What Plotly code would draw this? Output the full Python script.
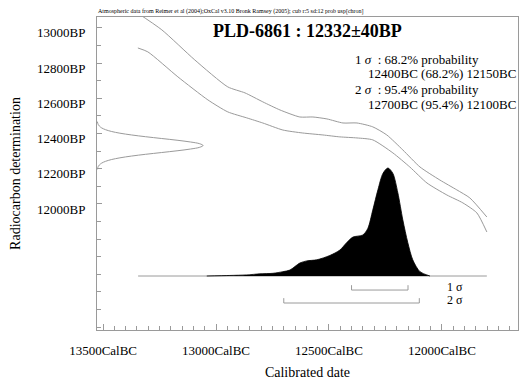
import plotly.graph_objects as go

# ---------------- data ----------------
# calibration curve envelope (cal BC, BP)
cal_upper_bc = [13355, 13240, 13094, 12948, 12872, 12793, 12717, 12629, 12571, 12509,
                12438, 12376, 12306, 12244, 12173, 12097, 12009, 11934, 11876, 11801]
cal_upper_bp = [13091, 12989, 12818, 12665, 12631, 12580, 12534, 12494, 12494, 12483,
                12460, 12460, 12438, 12392, 12307, 12210, 12136, 12080, 12034, 11926]
cal_lower_bc = [13346, 13302, 13169, 13036, 12948, 12864, 12793, 12704, 12616, 12527,
                12452, 12376, 12306, 12217, 12142, 12066, 11978, 11907, 11845, 11801]
cal_lower_bp = [12886, 12864, 12722, 12591, 12523, 12489, 12460, 12420, 12403, 12392,
                12381, 12375, 12364, 12290, 12210, 12119, 12051, 12006, 11949, 11841]

# radiocarbon measurement distribution (BP, relative probability)
rc_bp = [12196, 12212, 12222, 12232, 12242, 12252, 12262, 12272, 12282, 12292, 12302, 12312,
         12322, 12332, 12342, 12352, 12362, 12372, 12382, 12392, 12402, 12412, 12422,
         12432, 12442, 12452, 12468]
rc_p = [0.003, 0.011, 0.023, 0.044, 0.080, 0.135, 0.216, 0.325, 0.458, 0.607, 0.755, 0.882,
        0.969, 1.0, 0.969, 0.882, 0.755, 0.607, 0.458, 0.325, 0.216, 0.135, 0.080,
        0.044, 0.023, 0.011, 0.003]

# calibrated probability distribution (cal BC, relative probability)
post_bc = [13041, 12939, 12864, 12806, 12748, 12704, 12673, 12629, 12598, 12554, 12496,
           12452, 12421, 12394, 12350, 12328, 12306, 12283, 12261, 12239, 12217, 12195,
           12173, 12151, 12129, 12097, 12053]
post_p = [0.0, 0.005, 0.01, 0.02, 0.025, 0.04, 0.055, 0.12, 0.14, 0.15, 0.19,
          0.24, 0.31, 0.36, 0.38, 0.44, 0.61, 0.80, 0.95, 1.0, 0.95, 0.77,
          0.52, 0.31, 0.15, 0.04, 0.0]
post_extent_bc = [13345, 11801]

# sigma ranges (cal BC)
sigma_labels = ["1 σ", "2 σ"]
sigma_from = [12400, 12700]
sigma_to = [12150, 12100]

# ticks
x_tickvals = [13500, 13000, 12500, 12000]
x_ticktext = ["13500CalBC", "13000CalBC", "12500CalBC", "12000CalBC"]
y_tickvals = [12000, 12200, 12400, 12600, 12800, 13000]
y_ticktext = ["12000BP", "12200BP", "12400BP", "12600BP", "12800BP", "13000BP"]

title_text = "PLD-6861 : 12332±40BP"
header_text = ("Atmospheric data from Reimer et al (2004);OxCal v3.10 Bronk Ramsey (2005); "
               "cub r:5 sd:12 prob usp[chron]")
legend_lines = ["1 <i>σ</i>\u00a0 : 68.2% probability", "12400BC (68.2%) 12150BC",
                "2 <i>σ</i>\u00a0 : 95.4% probability", "12700BC (95.4%) 12100BC"]

# ---------------- figure ----------------
FONT = "Liberation Serif, Times New Roman, serif"
GRAY = "#9a9a9a"

fig = go.Figure()

# calibration curve
fig.add_trace(go.Scatter(x=cal_upper_bc, y=cal_upper_bp, mode="lines",
                         line=dict(color=GRAY, width=1, shape="spline", smoothing=0.6),
                         hoverinfo="skip", showlegend=False))
fig.add_trace(go.Scatter(x=cal_lower_bc, y=cal_lower_bp, mode="lines",
                         line=dict(color=GRAY, width=1, shape="spline", smoothing=0.6),
                         hoverinfo="skip", showlegend=False))

# radiocarbon distribution on the y axis
fig.add_trace(go.Scatter(x=rc_p, y=rc_bp, xaxis="x2", yaxis="y", mode="lines",
                         line=dict(color=GRAY, width=1, shape="spline"),
                         hoverinfo="skip", showlegend=False))

# baseline of calibrated distribution
fig.add_trace(go.Scatter(x=post_extent_bc, y=[0, 0], xaxis="x", yaxis="y2", mode="lines",
                         line=dict(color=GRAY, width=1), hoverinfo="skip", showlegend=False))
# calibrated distribution
fig.add_trace(go.Scatter(x=post_bc, y=post_p, xaxis="x", yaxis="y2", mode="lines",
                         fill="tozeroy", fillcolor="black",
                         line=dict(color="black", width=0.8, shape="spline", smoothing=0.8),
                         hoverinfo="skip", showlegend=False))

# sigma range brackets
bar_levels = [-0.13, -0.25]
tick_h = 0.045
for lab, a, b, lev in zip(sigma_labels, sigma_from, sigma_to, bar_levels):
    fig.add_trace(go.Scatter(x=[a, a, b, b], y=[lev + tick_h, lev, lev, lev + tick_h],
                             xaxis="x", yaxis="y2", mode="lines",
                             line=dict(color=GRAY, width=1),
                             hoverinfo="skip", showlegend=False))
    fig.add_annotation(x=11985, y=lev + 0.03, xref="x", yref="y2", text=lab,
                       showarrow=False, xanchor="left", yanchor="middle",
                       font=dict(family=FONT, size=12, color="black"))

# title and texts
fig.add_annotation(x=0.5, y=0.955, xref="paper", yref="paper", text="<b>" + title_text + "</b>",
                   showarrow=False, xanchor="center", yanchor="middle",
                   font=dict(family=FONT, size=18, color="black"))
fig.add_annotation(x=-0.003, y=1.0, xref="paper", yref="paper", text=header_text,
                   showarrow=False, xanchor="left", yanchor="bottom",
                   font=dict(family=FONT, size=6, color="black"))
leg_x = [0.608, 0.639, 0.608, 0.639]
leg_y = [0.865, 0.818, 0.768, 0.722]
for t, lx, ly in zip(legend_lines, leg_x, leg_y):
    fig.add_annotation(x=lx, y=ly, xref="paper", yref="paper", text=t,
                       showarrow=False, xanchor="left", yanchor="middle",
                       font=dict(family=FONT, size=13, color="black"))

fig.update_layout(
    width=524, height=380,
    margin=dict(l=97, r=6, t=17, b=50, autoexpand=False),
    paper_bgcolor="white", plot_bgcolor="white",
    font=dict(family=FONT, size=13, color="black"),
    xaxis=dict(range=[13527, 11663], tickvals=x_tickvals, ticktext=x_ticktext,
               ticks="inside", ticklen=6, tickcolor=GRAY, tickwidth=1,
               minor=dict(dtick=50, tick0=12000, ticks="inside", ticklen=4, tickcolor=GRAY),
               showline=True, linecolor=GRAY, linewidth=1, mirror=True, automargin=False,
               showgrid=False, zeroline=False, ticklabelstandoff=8,
               title=dict(text="Calibrated date", font=dict(family=FONT, size=14), standoff=11)),
    yaxis=dict(range=[11284, 13062], tickvals=y_tickvals, ticktext=y_ticktext,
               ticks="inside", ticklen=5, tickcolor=GRAY, tickwidth=1,
               minor=dict(dtick=100, tick0=12000, ticks="inside", ticklen=4, tickcolor=GRAY),
               showline=True, linecolor=GRAY, linewidth=1, mirror=True, automargin=False,
               showgrid=False, zeroline=False, ticklabelstandoff=8, ticklabelshift=5,
               title=dict(text="Radiocarbon determination", font=dict(family=FONT, size=14), standoff=13)),
    xaxis2=dict(overlaying="x", range=[0, 3.97], visible=False),
    yaxis2=dict(overlaying="y", range=[-0.5, 2.398], visible=False),
)

fig.write_html("out.html", config={"displayModeBar": False},
               post_script="document.body.style.margin='0';")
